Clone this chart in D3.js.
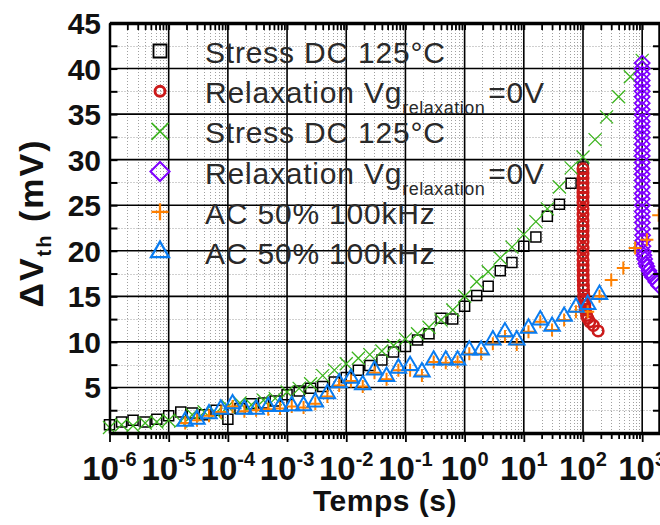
<!DOCTYPE html>
<html><head><meta charset="utf-8">
<script src="https://cdn.jsdelivr.net/npm/d3@7"></script>
<style>
body{margin:0;background:#fff;}
svg{display:block;font-family:"Liberation Sans",Arial,sans-serif;}
</style></head><body>
<svg id="c" width="660" height="525"></svg>
<script>
// ---------- DATA ----------
// Stress DC 125°C (black squares)
const dcTimes = [1.0e-6,1.6e-6,2.5e-6,4.0e-6,6.3e-6,
  1.0e-5,1.6e-5,2.5e-5,4.0e-5,6.3e-5,
  1.0e-4,1.6e-4,2.5e-4,4.0e-4,6.3e-4,
  1.0e-3,1.6e-3,2.5e-3,4.0e-3,6.3e-3,
  1.0e-2,1.6e-2,2.5e-2,4.0e-2,6.3e-2,
  0.10,0.16,0.25,0.40,0.63,
  1.0,1.6,2.5,4.0,6.3,
  10,16,25,40,63,
  100];
const dcValues = [0.9,1.2,1.4,1.2,1.5,
  1.9,2.3,2.2,2.0,2.5,
  1.5,2.7,3.2,3.3,3.5,
  4.2,4.6,4.9,5.1,5.6,
  6.1,6.9,7.4,8.0,8.9,
  9.5,10.2,10.9,12.6,12.5,
  13.9,15.1,16.1,17.8,18.7,
  20.5,21.5,23.8,25.1,27.4,
  29.2];
// Relaxation after 100 s (red circles)
const relax1Times = [100.001,100.0015,100.002,100.003,100.004,100.005,100.007,100.01,100.015,100.02,
  100.03,100.04,100.05,100.07,100.1,100.15,100.2,100.3,100.4,100.5,
  100.7,101,101.5,102,103,104,105,107,110,115,120,130,150,180];
const relax1Values = [29.0,28.5,28.0,27.4,26.9,26.4,25.9,25.3,24.6,24.0,
  23.3,22.7,22.2,21.6,21.0,20.3,19.7,19.0,18.4,17.9,
  17.3,16.8,16.2,15.7,15.1,14.7,14.4,14.0,13.5,12.9,12.6,12.2,11.8,11.2];
// Stress DC 125°C (green crosses)
const dc2Times = [1.0e-6,1.6e-6,2.5e-6,4.0e-6,6.3e-6,
  1.0e-5,1.6e-5,2.5e-5,4.0e-5,6.3e-5,
  1.0e-4,1.6e-4,2.5e-4,4.0e-4,6.3e-4,
  1.0e-3,1.6e-3,2.5e-3,4.0e-3,6.3e-3,
  1.0e-2,1.6e-2,2.5e-2,4.0e-2,6.3e-2,
  0.10,0.16,0.25,0.40,0.63,
  1.0,1.6,2.5,4.0,6.3,
  10,16,25,40,63,
  100,160,250,400,630,
  1000];
const dc2Values = [0.6,0.9,0.8,1.1,1.2,
  1.4,1.3,2.0,2.3,2.2,
  2.9,3.3,3.1,3.6,3.8,
  4.5,4.9,5.4,6.3,6.9,
  7.6,8.2,8.6,9.0,9.6,
  10.3,10.9,11.6,12.4,13.5,
  15.0,16.6,17.7,19.2,20.4,
  21.8,23.2,24.6,27.0,29.1,
  30.3,32.2,34.7,36.9,39.1,
  40.9];
// Relaxation after 1000 s (purple diamonds)
const relax2Times = [1000.001,1000.0015,1000.002,1000.003,1000.004,1000.005,1000.007,1000.01,1000.015,1000.02,
  1000.03,1000.04,1000.05,1000.07,1000.1,1000.15,1000.2,1000.3,1000.4,1000.5,
  1000.7,1001,1001.5,1002,1003,1004,1005,1007,1010,1015,
  1020,1030,1050,1070,1100,1150,1200,1300,1400,1500,1700,1900];
const relax2Values = [40.6,40.0,39.4,38.7,38.1,37.5,36.9,36.2,35.5,34.9,
  34.2,33.6,33.0,32.4,31.7,31.0,30.4,29.7,29.0,28.4,
  27.7,27.0,26.3,25.7,25.0,24.3,23.7,23.1,22.4,21.7,
  21.1,20.5,19.9,19.5,19.1,18.6,18.3,17.8,17.4,17.1,16.6,16.2];
// AC 50% 100kHz (orange plus)
const acTimes = [1.9e-5,3.0e-5,4.8e-5,7.6e-5,
  1.2e-4,1.9e-4,3.0e-4,4.8e-4,7.6e-4,
  1.2e-3,1.9e-3,3.0e-3,4.8e-3,7.6e-3,
  1.2e-2,1.9e-2,3.0e-2,4.8e-2,7.6e-2,
  0.12,0.19,0.30,0.48,0.76,
  1.2,1.9,3.0,4.8,7.6,
  12,19,30,48,76,
  120,190,300,480,760,
  1200,1900];
const acValues = [1.1,1.4,1.9,2.3,
  2.9,2.4,2.5,2.6,2.7,
  2.9,2.8,3.2,4.0,5.2,
  5.7,5.1,6.6,5.9,6.9,
  6.9,6.3,7.8,7.7,7.8,
  8.7,8.7,9.8,10.6,9.7,
  11.1,12.2,11.3,12.4,13.3,
  13.3,15.0,16.8,18.1,20.3,
  21.2,23.9];
// AC 50% 100kHz (blue triangles)
const ac2Times = acTimes.slice(0,36);
const ac2Values = [1.3,1.5,2.1,2.6,
  3.2,2.6,2.6,2.9,2.9,
  3.0,3.0,3.4,4.3,5.5,
  6.0,5.3,6.9,6.2,7.1,
  7.4,6.7,8.0,8.0,8.0,
  9.1,9.1,10.2,11.1,10.2,
  11.5,12.4,11.7,12.8,13.8,
  14.1,15.2];

const xDecades = [-6,-5,-4,-3,-2,-1,0,1,2,3];
const yTicks = [5,10,15,20,25,30,35,40,45];
const legendLabels = ["Stress DC 125°C","Relaxation Vg","Stress DC 125°C","Relaxation Vg","AC 50% 100kHz","AC 50% 100kHz"];

// ---------- CHART ----------
const svg = d3.select("#c");
const x = d3.scaleLog().domain([1e-6, 2e3]).range([109.5, 660]);
const y = d3.scaleLinear().domain([0, 45]).range([433, 23]);
const px = v => Math.round(x(v)) + 0.5;
const py = v => Math.round(y(v)) + 0.5;

const majorX = xDecades.map(e => Math.pow(10, e));
const minorX = [];
xDecades.forEach(e => { for (let m = 2; m <= 9; m++) { const v = m * Math.pow(10, e); if (v < 2000) minorX.push(v); } });
const minorY = d3.range(2.5, 45, 5);

const grid = svg.append("g");
grid.selectAll(".gmx").data(minorX).join("line")
  .attr("x1", px).attr("x2", px).attr("y1", y(0)).attr("y2", y(45))
  .attr("stroke", "#a0a0a0").attr("stroke-width", 1).attr("stroke-dasharray", "1,2");
grid.selectAll(".gmy").data(minorY).join("line")
  .attr("x1", x(1e-6)).attr("x2", x(2e3)).attr("y1", py).attr("y2", py)
  .attr("stroke", "#a0a0a0").attr("stroke-width", 1).attr("stroke-dasharray", "1,2");
grid.selectAll(".gMx").data(majorX.slice(1)).join("line")
  .attr("x1", d => x(d)).attr("x2", d => x(d)).attr("y1", y(0)).attr("y2", y(45))
  .attr("stroke", "#000").attr("stroke-width", 1.6);
grid.selectAll(".gMy").data(yTicks.slice(0, -1)).join("line")
  .attr("x1", x(1e-6)).attr("x2", x(2e3)).attr("y1", d => y(d)).attr("y2", d => y(d))
  .attr("stroke", "#000").attr("stroke-width", 1.6);

// marker shapes
const shp = {
  square: s => `M${-s/2},${-s/2}h${s}v${s}h${-s}Z`,
  circle: s => `M${s/2},0A${s/2},${s/2} 0 1,1 ${-s/2},0A${s/2},${s/2} 0 1,1 ${s/2},0Z`,
  x: s => `M${-s/2},${-s/2}L${s/2},${s/2}M${-s/2},${s/2}L${s/2},${-s/2}`,
  diamond: s => `M0,${-s/2}L${s/2},0L0,${s/2}L${-s/2},0Z`,
  plus: s => `M${-s/2},0H${s/2}M0,${-s/2}V${s/2}`,
  triangle: s => { const h = s * 0.866; return `M0,${-2*h/3}L${s/2},${h/3}L${-s/2},${h/3}Z`; }
};

const series = [
  {t: dcTimes, v: dcValues, shape: "square", size: 10, color: "#000", sw: 1.5, lsize: 13},
  {t: relax1Times, v: relax1Values, shape: "circle", size: 10.5, color: "#cc1a1a", sw: 2.6, lsize: 10},
  {t: dc2Times, v: dc2Values, shape: "x", size: 13, color: "#3cb41e", sw: 1.3, lsize: 17},
  {t: relax2Times, v: relax2Values, shape: "diamond", size: 15, color: "#8000ff", sw: 1.8, lsize: 19},
  {t: acTimes, v: acValues, shape: "plus", size: 13, color: "#ff8000", sw: 2, lsize: 17},
  {t: ac2Times, v: ac2Values, shape: "triangle", size: 15.5, color: "#0a7cf0", sw: 2, lsize: 18}
];

const dataG = svg.append("g");
series.forEach(s => {
  dataG.append("g").selectAll("path").data(s.t.map((t, i) => [t, s.v[i]])).join("path")
    .attr("transform", d => `translate(${x(d[0])},${y(d[1])})`)
    .attr("d", shp[s.shape](s.size))
    .attr("fill", "none").attr("stroke", s.color).attr("stroke-width", s.sw);
});

// axes
const allX = majorX.concat(minorX);
const axB = svg.append("g").attr("transform", `translate(0,${y(0)})`)
  .call(d3.axisBottom(x).tickValues(allX).tickSize(7).tickFormat("").tickSizeOuter(0));
axB.selectAll(".tick line").attr("stroke-width", 1.8).attr("y2", d => majorX.includes(d) ? 9 : 6);
axB.select(".domain").attr("stroke-width", 3.5);
const axT = svg.append("g").attr("transform", `translate(0,${y(45)})`)
  .call(d3.axisTop(x).tickValues(allX).tickSize(-7).tickFormat("").tickSizeOuter(0));
axT.selectAll(".tick line").attr("stroke-width", 1.8);
axT.select(".domain").attr("stroke-width", 3.5);
const yAll = yTicks.concat(minorY);
const axL = svg.append("g").attr("transform", `translate(${x(1e-6)},0)`)
  .call(d3.axisLeft(y).tickValues(yAll).tickSize(-8).tickFormat("").tickSizeOuter(0));
axL.selectAll(".tick line").attr("stroke-width", 2);
axL.select(".domain").attr("stroke-width", 2.5);
const axR = svg.append("g").attr("transform", `translate(${x(2e3) - 1},0)`)
  .call(d3.axisRight(y).tickValues(yAll).tickSize(-6).tickFormat("").tickSizeOuter(0));
axR.selectAll(".tick line").attr("stroke-width", 2);
axR.select(".domain").attr("stroke-width", 2.5);

// x tick labels 10^n
const xl = svg.append("g").attr("font-weight", "bold").attr("fill", "#111");
xDecades.forEach(e => {
  const t = xl.append("text").attr("x", x(Math.pow(10, e))).attr("y", 480).attr("text-anchor", "middle").attr("font-size", 33);
  t.append("tspan").text("10");
  t.append("tspan").attr("font-size", 20).attr("dy", -14.5).text(e);
});
// y tick labels
svg.append("g").selectAll("text").data(yTicks).join("text")
  .attr("x", 101).attr("y", d => y(d) + 11).attr("text-anchor", "end")
  .attr("font-weight", "bold").attr("font-size", 30).attr("fill", "#111").text(d => d);

// axis titles
svg.append("text").attr("x", 385).attr("y", 511).attr("text-anchor", "middle")
  .attr("font-weight", "bold").attr("font-size", 30).attr("letter-spacing", 0.5).attr("fill", "#111").text("Temps (s)");
const yt = svg.append("text").attr("transform", "translate(43,223) rotate(-90)").attr("text-anchor", "middle")
  .attr("font-weight", "bold").attr("font-size", 34).attr("letter-spacing", 2).attr("fill", "#111");
yt.append("tspan").text("ΔV");
yt.append("tspan").attr("font-size", 20).attr("dy", 8).text("th");
yt.append("tspan").attr("dy", -8).text(" (mV)");

// legend
const lg = svg.append("g");
series.forEach((s, i) => {
  const cy = 51 + 40.2 * i;
  lg.append("path").attr("transform", `translate(160,${cy})`).attr("d", shp[s.shape](s.lsize))
    .attr("fill", "none").attr("stroke", s.color).attr("stroke-width", s.sw + 0.3);
  const t = lg.append("text").attr("x", 205).attr("y", cy + 12).attr("font-size", 30)
    .attr("letter-spacing", 0.8).attr("fill", "#2a2a2a");
  t.append("tspan").text(legendLabels[i]);
  if (legendLabels[i].startsWith("Relaxation")) {
    t.append("tspan").attr("font-size", 18).attr("letter-spacing", 0.5).attr("dy", 11).text("relaxation");
    t.append("tspan").attr("dy", -11).attr("dx", 3).text("=0V");
  }
});
</script>
</body></html>
